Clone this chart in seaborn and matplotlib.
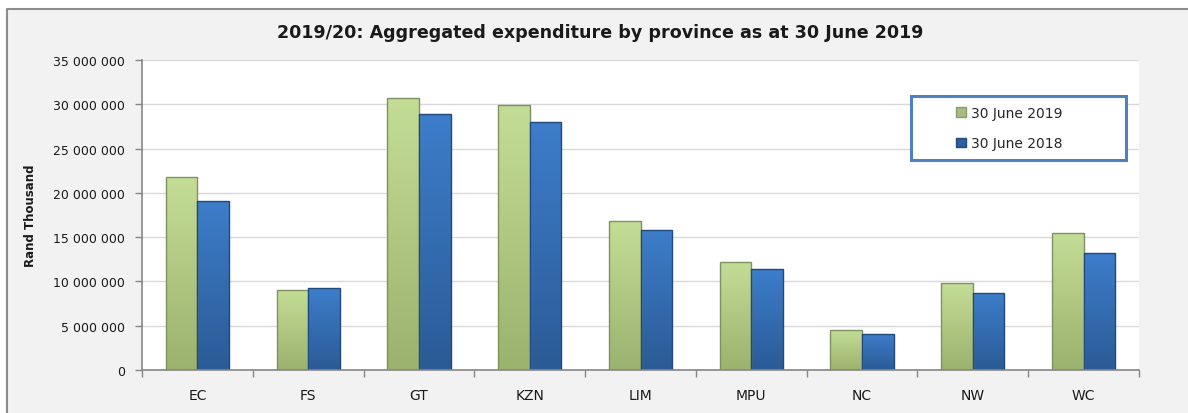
import pandas as pd
import matplotlib
matplotlib.use('Agg')
import matplotlib.pyplot as plt
import numpy as np
import seaborn as sns
from matplotlib.patches import Rectangle
from matplotlib.lines import Line2D
from matplotlib.colors import to_rgb
from matplotlib.ticker import FuncFormatter

# Aggregated expenditure by province (Rand Thousand)
provinces = ['EC', 'FS', 'GT', 'KZN', 'LIM', 'MPU', 'NC', 'NW', 'WC']
june_2019 = [21800000, 9060000, 30760000, 29900000, 16800000, 12200000, 4560000, 9800000, 15480000]
june_2018 = [19100000, 9250000, 28900000, 28000000, 15850000, 11400000, 4110000, 8640000, 13200000]
series_names = ['30 June 2019', '30 June 2018']

df = pd.DataFrame({
    'Province': provinces * 2,
    'Expenditure': june_2019 + june_2018,
    'Period': [series_names[0]] * len(provinces) + [series_names[1]] * len(provinces),
})

sns.set_style('white')
plt.rcParams['font.family'] = ['DejaVu Sans']

fig = plt.figure(figsize=(11.88, 4.14), dpi=100)
fig.patch.set_facecolor('white')
# grey chart area, border only on left/top (rest is cut off in the screenshot)
bx, by = 7 / 1188, 1 - 10 / 414
fig.patches.append(Rectangle((bx, 0), 1 - bx, by, transform=fig.transFigure,
                             facecolor='#f2f2f2', edgecolor='none', zorder=-10))
fig.lines.append(Line2D([bx, bx, 1], [0, by, by], transform=fig.transFigure,
                        color='#8c8c8c', linewidth=1.5, zorder=-9))

ax = fig.add_axes([142 / 1188, 1 - 371 / 414, (1139 - 142) / 1188, (371 - 61) / 414])
ax.set_facecolor('white')

palette = {series_names[0]: '#b5cf86', series_names[1]: '#3370b7'}
sns.barplot(data=df, x='Province', y='Expenditure', hue='Period', palette=palette,
            width=0.57, gap=0, ax=ax, legend=False, saturation=1)

# shaded fill (light top -> darker bottom) like the office chart
shades = {'green': ('#c4dd96', '#9cb26f', '#7d9260'), 'blue': ('#3d7dca', '#2b5b96', '#22497a')}
for p in list(ax.patches):
    key = 'green' if p.get_facecolor()[0] > 0.5 else 'blue'
    top, bot, edge = shades[key]
    x0, w, h = p.get_x(), p.get_width(), p.get_height()
    grad = np.linspace(0, 1, 64)[:, None, None]
    img = (1 - grad) * np.array(to_rgb(top)) + grad * np.array(to_rgb(bot))
    im = ax.imshow(img, extent=[x0, x0 + w, 0, h], aspect='auto', origin='upper', zorder=2,
                   interpolation='bilinear')
    im.set_clip_path(p)
    p.set_facecolor('none')
    p.set_edgecolor(edge)
    p.set_linewidth(1)
    p.set_zorder(3)

ax.set_ylim(0, 35000000)
ax.set_xlim(-0.5, 8.5)
ax.set_yticks(np.arange(0, 35000001, 5000000))
ax.yaxis.set_major_formatter(FuncFormatter(lambda v, _: f'{int(v):,}'.replace(',', ' ')))
ax.grid(axis='y', color='#d9d9d9', linewidth=1)
ax.set_axisbelow(True)

ax.set_xticks(np.arange(-0.5, 9, 1), minor=True)
ax.tick_params(axis='x', which='major', length=0, pad=13, labelsize=10, colors='#1a1a1a')
ax.tick_params(axis='x', which='minor', length=5, width=1, color='#868686', direction='out')
ax.tick_params(axis='y', length=5, width=1, color='#868686', pad=7, labelsize=9, labelcolor='#1a1a1a')
ax.tick_params(axis='y', left=True)
ax.tick_params(axis='x', bottom=True, which='minor')

for s in ['top', 'right']:
    ax.spines[s].set_visible(False)
for s in ['left', 'bottom']:
    ax.spines[s].set_color('#868686')
    ax.spines[s].set_linewidth(1.2)
    ax.spines[s].set_zorder(4)

ax.set_xlabel('')
ax.set_ylabel('Rand Thousand', fontsize=8.5, fontweight='bold', color='#1a1a1a')
ax.yaxis.set_label_coords(-0.105, 0.5)

fig.text(600 / 1188, 1 - 33 / 414, '2019/20: Aggregated expenditure by province as at 30 June 2019',
         ha='center', va='center', fontsize=12.6, fontweight='bold', color='#1a1a1a')

# legend box
lx0, lx1 = (911 - 142) / 997, (1126 - 142) / 997
ly0, ly1 = (371 - 161) / 310, (371 - 97) / 310
ax.add_patch(Rectangle((lx0, ly0), lx1 - lx0, ly1 - ly0, transform=ax.transAxes,
                       facecolor='white', edgecolor='#4f81bd', linewidth=2.2, zorder=5))
handles = [Rectangle((0, 0), 1, 1, facecolor='#a7bb84', edgecolor='#8a9c6a'),
           Rectangle((0, 0), 1, 1, facecolor='#2e5f9e', edgecolor='#234b7e')]
ax.legend(handles, series_names, loc='center left', bbox_to_anchor=((956 - 142) / 997, (ly0 + ly1) / 2),
          frameon=False, fontsize=10, handlelength=0.7, handleheight=0.7, handletextpad=0.4,
          labelspacing=1.2, borderpad=0, borderaxespad=0).set_zorder(6)

fig.savefig('out.png', dpi=100)
